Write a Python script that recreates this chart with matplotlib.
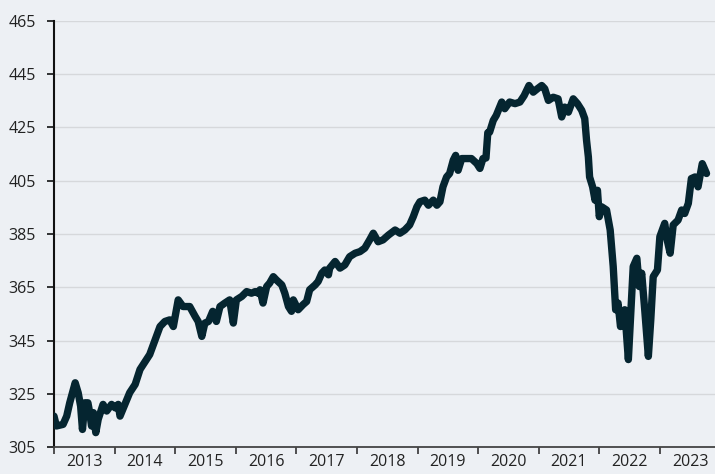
import matplotlib
matplotlib.use("Agg")
import matplotlib.pyplot as plt
from matplotlib.ticker import FixedLocator, NullFormatter, FixedFormatter

# index level (decimal year, value)
dates = [2013.00, 2013.04, 2013.15, 2013.21, 2013.26, 2013.35, 2013.40, 2013.44, 2013.47, 2013.51,
         2013.56, 2013.59, 2013.62, 2013.65, 2013.69, 2013.73, 2013.81, 2013.87, 2013.95, 2014.01,
         2014.06, 2014.09, 2014.17, 2014.25, 2014.34, 2014.42, 2014.53, 2014.58, 2014.67, 2014.75,
         2014.83, 2014.91, 2014.97, 2015.05, 2015.13, 2015.24, 2015.33, 2015.38, 2015.44, 2015.49,
         2015.55, 2015.62, 2015.68, 2015.74, 2015.82, 2015.90, 2015.96, 2016.01, 2016.10, 2016.18,
         2016.26, 2016.32, 2016.37, 2016.40, 2016.45, 2016.51, 2016.56, 2016.62, 2016.67, 2016.76,
         2016.81, 2016.87, 2016.92, 2016.95, 2017.03, 2017.11, 2017.17, 2017.22, 2017.31, 2017.36,
         2017.42, 2017.47, 2017.53, 2017.55, 2017.64, 2017.72, 2017.80, 2017.88, 2017.97, 2018.05,
         2018.13, 2018.21, 2018.27, 2018.35, 2018.43, 2018.52, 2018.63, 2018.71, 2018.79, 2018.87,
         2018.93, 2018.99, 2019.04, 2019.12, 2019.18, 2019.26, 2019.32, 2019.37, 2019.42, 2019.48,
         2019.53, 2019.59, 2019.63, 2019.67, 2019.73, 2019.81, 2019.89, 2019.98, 2020.03, 2020.08,
         2020.13, 2020.16, 2020.19, 2020.25, 2020.30, 2020.39, 2020.44, 2020.52, 2020.61, 2020.69,
         2020.76, 2020.84, 2020.91, 2020.98, 2021.05, 2021.10, 2021.16, 2021.24, 2021.32, 2021.38,
         2021.43, 2021.49, 2021.57, 2021.64, 2021.71, 2021.76, 2021.79, 2021.82, 2021.84, 2021.89,
         2021.93, 2021.97, 2022.00, 2022.04, 2022.12, 2022.18, 2022.23, 2022.25, 2022.27, 2022.31,
         2022.35, 2022.42, 2022.48, 2022.52, 2022.56, 2022.62, 2022.66, 2022.70, 2022.75, 2022.81,
         2022.85, 2022.89, 2022.96, 2023.00, 2023.08, 2023.12, 2023.17, 2023.22, 2023.30, 2023.36,
         2023.41, 2023.47, 2023.52, 2023.58, 2023.63, 2023.66, 2023.70, 2023.77]
values = [316.7, 313.0, 313.6, 316.7, 321.7, 329.2, 325.4, 320.4, 311.7, 321.7,
          321.7, 318.0, 313.0, 318.0, 310.5, 315.5, 321.1, 318.6, 321.1, 319.8,
          321.1, 316.7, 321.1, 325.5, 328.6, 334.2, 338.0, 339.8, 345.4, 350.3,
          352.2, 352.8, 350.3, 360.3, 357.8, 357.8, 354.1, 352.2, 346.6, 351.6,
          352.2, 356.0, 352.2, 357.8, 359.1, 360.3, 351.6, 360.3, 361.6, 363.4,
          362.8, 363.4, 362.8, 364.1, 359.1, 365.3, 366.6, 369.0, 367.8, 365.9,
          362.8, 357.8, 356.0, 360.3, 356.6, 358.5, 359.7, 364.1, 365.9, 367.2,
          370.3, 371.5, 369.7, 372.2, 374.7, 372.2, 373.4, 376.5, 377.8, 378.4,
          379.7, 382.8, 385.3, 382.1, 382.8, 384.6, 386.5, 385.3, 386.5, 388.4,
          391.5, 395.2, 397.1, 397.7, 395.8, 397.7, 395.8, 397.1, 402.7, 406.4,
          407.7, 412.7, 414.5, 408.9, 413.3, 413.3, 413.3, 411.4, 409.6, 413.3,
          413.5, 423.0, 423.2, 427.6, 429.5, 434.5, 432.0, 434.5, 433.9, 434.5,
          436.9, 440.7, 438.2, 439.5, 440.7, 439.5, 435.1, 436.3, 435.7, 428.9,
          432.6, 430.7, 435.7, 433.9, 431.4, 428.3, 420.1, 413.9, 406.4, 402.7,
          397.7, 401.4, 391.5, 395.2, 394.0, 386.5, 372.8, 365.0, 356.6, 359.1,
          350.3, 356.6, 337.9, 355.4, 372.8, 375.9, 365.3, 370.3, 356.6, 339.1,
          352.8, 369.0, 371.5, 384.0, 389.0, 382.8, 377.8, 388.4, 390.2, 394.0,
          392.7, 396.5, 405.8, 406.4, 402.7, 406.4, 411.4, 407.7]

years = [2013, 2014, 2015, 2016, 2017, 2018, 2019, 2020, 2021, 2022, 2023]
yticks = [305, 325, 345, 365, 385, 405, 425, 445, 465]

bg = '#edf0f4'
plt.rcParams['font.family'] = ['Open Sans', 'DejaVu Sans']

fig = plt.figure(figsize=(7.15, 4.74), dpi=100, facecolor=bg)
ax = fig.add_axes([0.0755, 0.0563, 0.9245, 0.9])
ax.set_facecolor(bg)

ax.plot(dates, values, color='#052530', linewidth=5.3,
        solid_joinstyle='round', solid_capstyle='round', zorder=3)

ax.set_ylim(305, 465)
ax.set_xlim(2013.0, 2023.91)
ax.set_yticks(yticks)
ax.grid(axis='y', color='#d6d8db', linewidth=1.0, zorder=0)

# year boundaries get tick marks, labels sit in the middle of each year
ax.xaxis.set_major_locator(FixedLocator(years))
ax.xaxis.set_major_formatter(NullFormatter())
ax.xaxis.set_minor_locator(FixedLocator([y + 0.5 for y in years]))
ax.xaxis.set_minor_formatter(FixedFormatter([str(y) for y in years]))
ax.tick_params(axis='x', which='major', length=5, width=1.2, color='#333333')
ax.tick_params(axis='x', which='minor', length=0, pad=5, labelsize=11.5, labelcolor='#222222')
ax.tick_params(axis='y', length=5, width=1.2, color='#111111', pad=8,
               labelsize=11.5, labelcolor='#222222')

for s in ['top', 'right']:
    ax.spines[s].set_visible(False)
ax.spines['left'].set_color('#111111')
ax.spines['left'].set_linewidth(1.5)
ax.spines['bottom'].set_color('#444444')
ax.spines['bottom'].set_linewidth(1.3)

fig.savefig('out.png', dpi=100, facecolor=bg)
